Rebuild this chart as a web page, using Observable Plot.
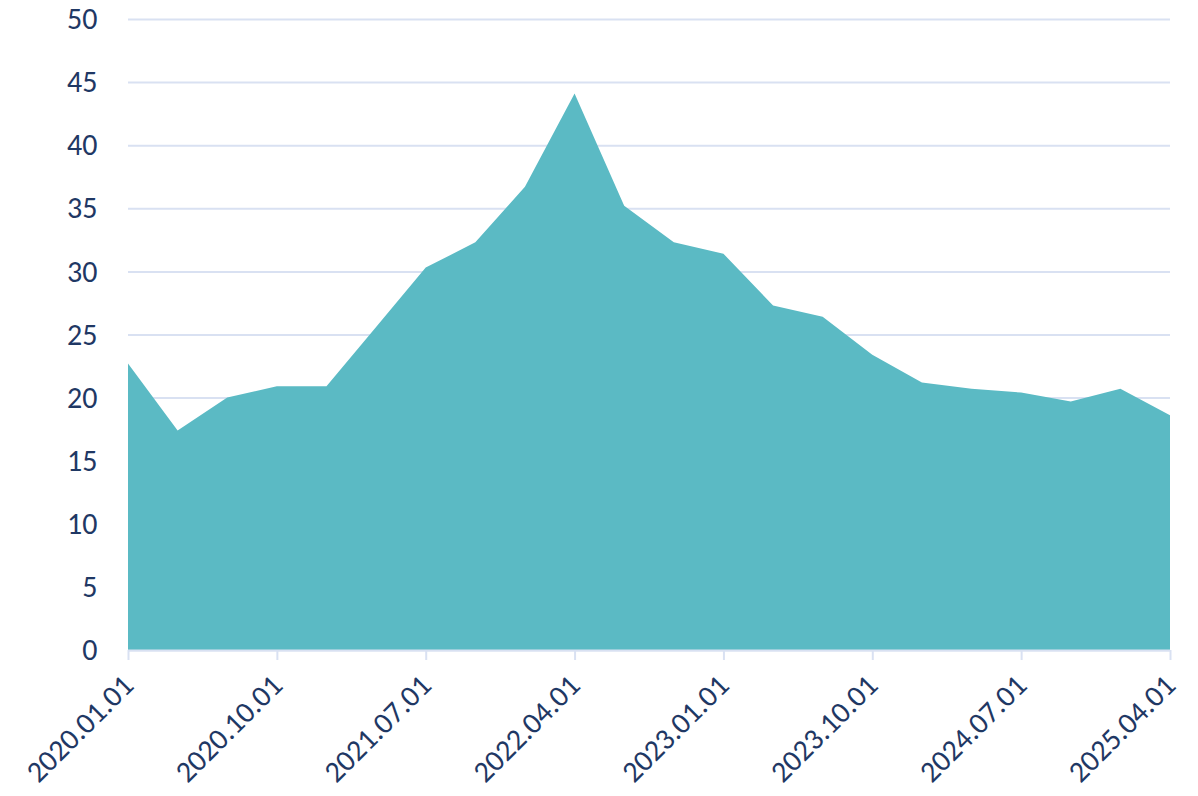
<!DOCTYPE html>
<html>
<head>
<meta charset="utf-8">
<script src="https://cdn.jsdelivr.net/npm/d3@7"></script>
<script src="https://cdn.jsdelivr.net/npm/@observablehq/plot@0.6"></script>
<style>
  html, body { margin: 0; padding: 0; background: #ffffff; }
  #chart svg { display: block; }
</style>
</head>
<body>
<div id="chart"></div>
<script>
// Quarterly dates (categories)
const dates = [
  "2020.01.01","2020.04.01","2020.07.01","2020.10.01",
  "2021.01.01","2021.04.01","2021.07.01","2021.10.01",
  "2022.01.01","2022.04.01","2022.07.01","2022.10.01",
  "2023.01.01","2023.04.01","2023.07.01","2023.10.01",
  "2024.01.01","2024.04.01","2024.07.01","2024.10.01",
  "2025.01.01","2025.04.01"
];
// Series values
const values = [
  22.7, 17.4, 20.0, 20.9,
  20.9, 25.6, 30.3, 32.3,
  36.7, 44.1, 35.2, 32.3,
  31.4, 27.3, 26.4, 23.4,
  21.2, 20.7, 20.4, 19.7,
  20.7, 18.6
];
// Tick labels shown on the x axis (every third quarter)
const xTickLabels = ["2020.01.01","2020.10.01","2021.07.01","2022.04.01","2023.01.01","2023.10.01","2024.07.01","2025.04.01"];
const yTicks = [0, 5, 10, 15, 20, 25, 30, 35, 40, 45, 50];

const data = dates.map((d, i) => ({i, date: d, value: values[i]}));
const xTickIdx = xTickLabels.map(l => dates.indexOf(l));

const textColor = "#1F3864";
const gridColor = "#D9E1F2";
const fillColor = "#5BBAC4";
const fontFamily = "Calibri, Carlito, Lato, sans-serif";

const chart = Plot.plot({
  width: 1198,
  height: 796,
  marginLeft: 128,
  marginRight: 28,
  marginTop: 19,
  marginBottom: 146,
  style: {fontFamily, fontSize: "30px", color: textColor, background: "#ffffff"},
  x: {type: "linear", domain: [0, dates.length - 1], label: null},
  y: {domain: [0, 50], label: null},
  marks: [
    Plot.gridY(yTicks, {stroke: gridColor, strokeOpacity: 1, strokeWidth: 2}),
    Plot.areaY(data, {x: "i", y: "value", fill: fillColor}),
    Plot.ruleY([0], {stroke: gridColor, strokeWidth: 2}),
    Plot.axisY(yTicks, {tickSize: 0, tickPadding: 31, fill: textColor, fontSize: 30, label: null}),
    Plot.axisX(xTickIdx, {
      tickSize: 10, stroke: gridColor, strokeWidth: 2, tickPadding: 20,
      tickRotate: -45, fill: textColor, fontSize: 30, label: null,
      tickFormat: i => dates[i]
    })
  ]
});
document.getElementById("chart").appendChild(chart);
</script>
</body>
</html>
